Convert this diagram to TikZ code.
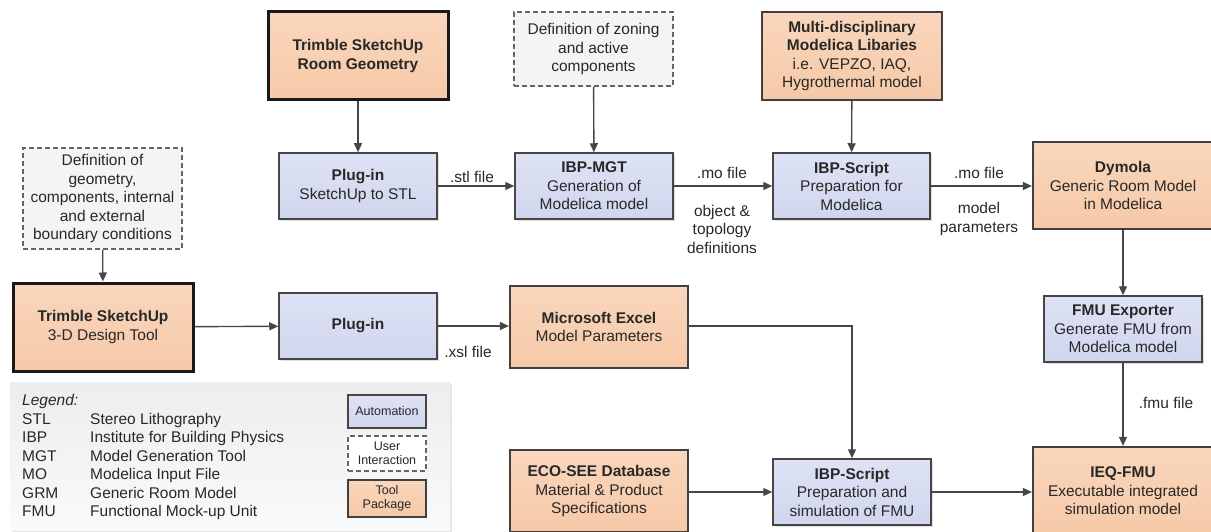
\documentclass[tikz,border=0pt]{standalone}
\usepackage{fontspec}
\setmainfont{Liberation Sans}
\usetikzlibrary{arrows.meta}
\usetikzlibrary{positioning}
\usetikzlibrary{shadows}
\definecolor{toolfill}{RGB}{246,201,168}
\definecolor{toolfilltop}{RGB}{249,214,188}
\definecolor{autofill}{RGB}{208,214,238}
\definecolor{autofilltop}{RGB}{222,226,244}
\definecolor{userfill}{RGB}{244,244,244}
\definecolor{linegray}{RGB}{70,70,70}
\definecolor{textgray}{RGB}{40,40,40}
\tikzset {
  flow node/.style = {
    draw = linegray,
    line width = 1.5pt,
    align = center,
    inner sep = 0pt,
    text = textgray,
    font = \fontsize{15.5}{18.5}\selectfont
  },
  % tool package
  tool node/.style = {
    flow node,
    draw = black!75,
    line width = 2.2pt,
    top color = toolfilltop,
    bottom color = toolfill
  },
  main tool/.style = {
    tool node,
    draw = black!90,
    line width = 3pt
  },
  % automation step
  auto node/.style = {
    flow node,
    top color = autofilltop,
    bottom color = autofill,
    drop shadow = {opacity = 0.25, shadow xshift = 1.5pt, shadow yshift = -1.5pt}
  },
  % user interaction
  user node/.style = {
    flow node,
    draw = black!60,
    line width = 1.2pt,
    dash pattern = on 5pt off 3pt,
    fill = userfill
  },
  arr/.style = {
    draw = linegray,
    line width = 1.4pt,
    -{Triangle[length = 9pt, width = 8pt]}
  },
  file label/.style = {
    align = center,
    inner sep = 0pt,
    text = textgray,
    font = \fontsize{15.5}{18.5}\selectfont
  },
  key node/.style = {
    flow node,
    line width = 1.2pt,
    minimum width = 78pt,
    font = \fontsize{12.5}{14.5}\selectfont
  }
}

\begin{document}
\begin{tikzpicture}[x = 1pt, y = -1pt]
  \useasboundingbox (0,0) rectangle (1211,532);

  % upper chain
  \node[main tool, minimum width = 180pt, minimum height = 88pt] (roomgeo) at (358,56)
    {\textbf{Trimble SketchUp}\\\textbf{Room Geometry}};
  \node[auto node, minimum width = 158pt, minimum height = 66pt] (plugstl) at (358,186)
    {\textbf{Plug-in}\\SketchUp to STL};
  \node[user node, minimum width = 159pt, minimum height = 74pt] (zoning) at (593.5,49)
    {Definition of zoning\\and active\\components};
  \node[auto node, minimum width = 158pt, minimum height = 66pt] (mgt) at (594,186)
    {\textbf{IBP-MGT}\\Generation of\\Modelica model};
  \node[tool node, minimum width = 180pt, minimum height = 88pt] (libs) at (852,56)
    {\textbf{Multi-disciplinary}\\\textbf{Modelica Libaries}\\i.e. VEPZO, IAQ,\\Hygrothermal model};
  \node[auto node, minimum width = 157pt, minimum height = 66pt] (prep) at (851.5,186)
    {\textbf{IBP-Script}\\Preparation for\\Modelica};
  \node[tool node, minimum width = 180pt, minimum height = 87pt] (dymola) at (1123,185.5)
    {\textbf{Dymola}\\Generic Room Model\\in Modelica};
  \node[auto node, minimum width = 158pt, minimum height = 66pt] (fmuexp) at (1123,329)
    {\textbf{FMU Exporter}\\Generate FMU from\\Modelica model};

  % lower chain
  \node[user node, minimum width = 159pt, minimum height = 101pt] (geodef) at (102.5,198.5)
    {Definition of\\geometry,\\components, internal\\and external\\boundary conditions};
  \node[main tool, minimum width = 180pt, minimum height = 88pt] (design) at (103,327)
    {\textbf{Trimble SketchUp}\\3-D Design Tool};
  \node[auto node, minimum width = 158pt, minimum height = 66pt] (plugxsl) at (358,326)
    {\textbf{Plug-in}};
  \node[tool node, minimum width = 178pt, minimum height = 82pt] (excel) at (599,327)
    {\textbf{Microsoft Excel}\\Model Parameters};
  \node[tool node, minimum width = 178pt, minimum height = 82pt] (ecosee) at (599,491)
    {\textbf{ECO-SEE Database}\\Material \& Product\\Specifications};
  \node[auto node, minimum width = 158pt, minimum height = 66pt] (simfmu) at (852,492)
    {\textbf{IBP-Script}\\Preparation and\\simulation of FMU};
  \node[tool node, minimum width = 180pt, minimum height = 88pt] (ieq) at (1123,491)
    {\textbf{IEQ-FMU}\\Executable integrated\\simulation model};
  \coordinate (excel-turn) at (852,326);

  % connectors
  \draw[arr] (roomgeo) -- (plugstl);
  \draw[arr] (plugstl) -- (mgt);
  \draw[arr] (zoning) -- (mgt);
  \draw[arr] (mgt) -- (prep);
  \draw[arr] (libs) -- (prep);
  \draw[arr] (prep) -- (prep -| dymola.west);
  \draw[arr] (dymola) -- (fmuexp);
  \draw[arr] (fmuexp) -- (ieq);
  \draw[arr] (geodef) -- (design);
  \draw[arr] (design) -- (plugxsl);
  \draw[arr] (plugxsl) -- (excel.west |- plugxsl);
  \draw[arr] (excel.east |- excel-turn) -- (excel-turn) -- (simfmu);
  \draw[arr] (ecosee.east |- simfmu) -- (simfmu);
  \draw[arr] (simfmu) -- (ieq.west |- simfmu);

  % file labels
  \node[file label] (stl-lbl) at (472,177) {.stl file};
  \node[file label] (mo-lbl) at (722,173) {.mo file};
  \node[file label] (obj-lbl) at (722,229) {object \&\\topology\\definitions};
  \node[file label] (mo2-lbl) at (979,173) {.mo file};
  \node[file label] (par-lbl) at (979,219) {model\\parameters};
  \node[file label] (xsl-lbl) at (468,352) {.xsl file};
  \node[file label] (fmu-lbl) at (1166,403) {.fmu file};

  % legend
  \node[inner sep = 0pt, minimum width = 440pt, minimum height = 148pt,
    top color = black!7, bottom color = black!2,
    drop shadow = {opacity = 0.2, shadow xshift = 2pt, shadow yshift = -2pt}]
    (legend) at (230,456) {};
  \node[file label, anchor = north west, align = left] (legend-txt) at (22,392.5)
    {\begin{tabular}{@{}p{68pt}@{}l@{}}
      \multicolumn{2}{@{}l}{\itshape Legend:}\\
      STL & Stereo Lithography\\
      IBP & Institute for Building Physics\\
      MGT & Model Generation Tool\\
      MO  & Modelica Input File\\
      GRM & Generic Room Model\\
      FMU & Functional Mock-up Unit
    \end{tabular}};
  \node[key node, top color = autofilltop, bottom color = autofill,
    minimum height = 33pt] (key-auto) at (387,411.5) {Automation};
  \node[key node, draw = black!60, dash pattern = on 5pt off 3pt, fill = white,
    minimum height = 35pt] (key-user) at (387,453.5) {User\\Interaction};
  \node[key node, draw = black!75, line width = 1.8pt,
    top color = toolfilltop, bottom color = toolfill,
    minimum height = 37pt] (key-tool) at (387,498.5) {Tool\\Package};
\end{tikzpicture}
\end{document}
